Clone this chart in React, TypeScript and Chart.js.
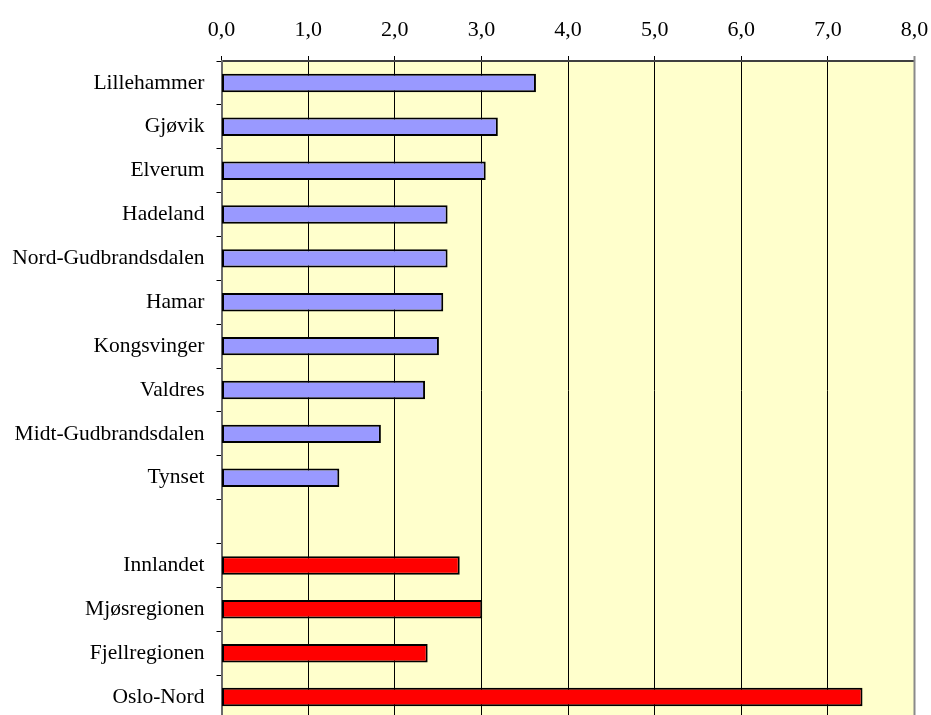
import React, { useEffect, useRef } from "react";
import { Chart, registerables } from "chart.js";

Chart.register(...registerables);

const categories = [
  "Lillehammer",
  "Gjøvik",
  "Elverum",
  "Hadeland",
  "Nord-Gudbrandsdalen",
  "Hamar",
  "Kongsvinger",
  "Valdres",
  "Midt-Gudbrandsdalen",
  "Tynset",
  "",
  "Innlandet",
  "Mjøsregionen",
  "Fjellregionen",
  "Oslo-Nord",
];

const values: (number | null)[] = [
  3.63, 3.19, 3.05, 2.61, 2.61, 2.56, 2.51, 2.35, 1.84, 1.36,
  null,
  2.75, 3.01, 2.38, 7.4,
];

const groups = [
  "region", "region", "region", "region", "region", "region", "region", "region", "region", "region",
  "none",
  "total", "total", "total", "total",
];

const xTicksMin = 0;
const xTicksMax = 8;
const xTickStep = 1;

const FONT = "'Liberation Serif', 'Times New Roman', serif";

const bgPlugin = {
  id: "plotBg",
  beforeDraw(chart: any) {
    const { ctx, chartArea } = chart;
    ctx.save();
    ctx.fillStyle = "#FFFFCC";
    ctx.fillRect(chartArea.left, chartArea.top, chartArea.right - chartArea.left, chartArea.bottom - chartArea.top);
    ctx.restore();
  },
  afterDraw(chart: any) {
    const { ctx, chartArea } = chart;
    ctx.save();
    ctx.strokeStyle = "#8a8a8a";
    ctx.lineWidth = 2;
    ctx.beginPath();
    ctx.moveTo(chartArea.right, chartArea.top - 5);
    ctx.lineTo(chartArea.right, chartArea.bottom);
    ctx.stroke();
    ctx.restore();
  },
};

export default function App() {
  const ref = useRef<HTMLCanvasElement>(null);
  useEffect(() => {
    if (!ref.current) return;
    const colors = groups.map((g) => (g === "total" ? "#FF0000" : "#9999FF"));
    const chart = new Chart(ref.current, {
      type: "bar",
      data: {
        labels: categories,
        datasets: [
          {
            data: values,
            backgroundColor: colors,
            borderColor: "#000000",
            borderWidth: 2,
            borderSkipped: false,
            barPercentage: 0.42,
            categoryPercentage: 1,
          },
        ],
      },
      options: {
        indexAxis: "y",
        animation: false,
        responsive: false,
        devicePixelRatio: 1,
        layout: { padding: { left: 0, right: 16.5, top: 0, bottom: 1 } },
        plugins: { legend: { display: false }, tooltip: { enabled: false }, title: { display: false } },
        scales: {
          x: {
            position: "top",
            min: xTicksMin,
            max: xTicksMax,
            ticks: {
              stepSize: xTickStep,
              color: "#000",
              font: { family: FONT, size: 22 },
              padding: 13,
              callback: (v: any) => Number(v).toFixed(1).replace(".", ","),
            },
            grid: { color: "#000", lineWidth: 1, tickLength: 5, drawOnChartArea: true },
            border: { color: "#404040", width: 2 },
            afterFit: (s: any) => {
              s.height = 61;
              s.paddingLeft = 0;
              s.paddingRight = 0;
            },
          },
          y: {
            ticks: {
              color: "#000",
              font: { family: FONT, size: 21.5 },
              padding: 12,
              autoSkip: false,
            },
            grid: { offset: true, drawOnChartArea: false, color: "#000", tickLength: 5 },
            border: { color: "#6a6a6a", width: 2 },
            afterFit: (s: any) => {
              s.width = 221.5;
              s.paddingTop = 0;
              s.paddingBottom = 0;
            },
          },
        },
      },
      plugins: [bgPlugin],
    });
    return () => chart.destroy();
  }, []);
  return (
    <div style={{ position: "fixed", left: 0, top: 0, width: 931, height: 715, overflow: "hidden", background: "#fff" }}>
      <canvas ref={ref} width={931} height={720} style={{ display: "block", width: 931, height: 720 }} />
    </div>
  );
}
